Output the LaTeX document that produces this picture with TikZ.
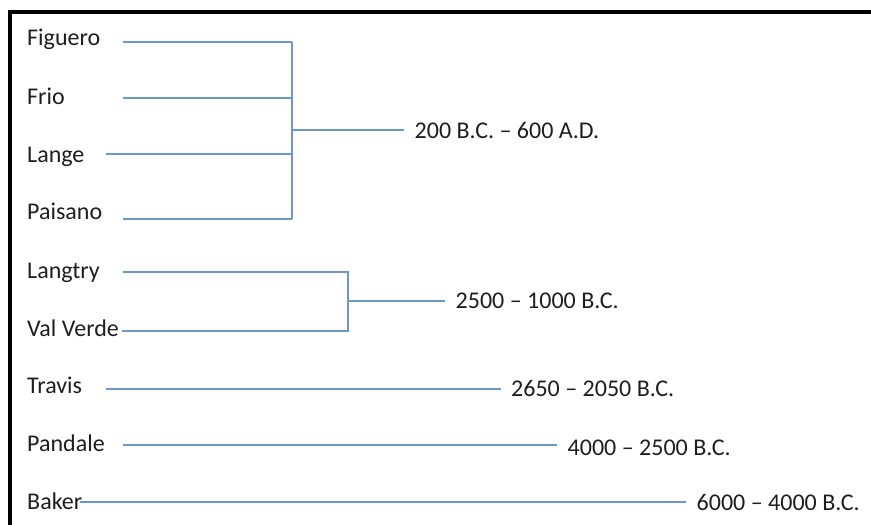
\documentclass[tikz,border=0pt]{standalone}
\usepackage{fontspec}
\setmainfont{Carlito}
\definecolor{linkblue}{RGB}{108,150,206}
\definecolor{inkgray}{RGB}{30,30,30}
\begin{document}
\begin{tikzpicture}[x=1pt,y=-1pt,
  culture/.style={anchor=base west, inner sep=0pt, font=\fontsize{24}{28}\selectfont, text=inkgray},
  period/.style={anchor=west, inner xsep=10.5pt, inner ysep=0pt, font=\fontsize{24}{28}\selectfont, text=inkgray},
  link/.style={draw=linkblue, line width=1.6pt},
  frameline/.style={draw=black, line width=4pt}]
\useasboundingbox (0,0) rectangle (871,525);
% frame along top and left edges
\draw[frameline] (10,525) -- (10,12) -- (871,12);

% culture names
\node[culture] (figuero) at (27,45) {Figuero};
\node[culture] (frio) at (27,104) {Frio};
\node[culture] (lange) at (27,162) {Lange};
\node[culture] (paisano) at (27,219) {Paisano};
\node[culture] (langtry) at (27,278) {Langtry};
\node[culture] (valverde) at (27,336) {Val Verde};
\node[culture] (travis) at (27,393) {Travis};
\node[culture] (pandale) at (27,451.5) {Pandale};
\node[culture] (baker) at (27,509) {Baker};

% left ends of the connectors
\coordinate (figueroS) at (123,41.7);
\coordinate (frioS) at (123,97.7);
\coordinate (langeS) at (106,154);
\coordinate (paisanoS) at (123,219);
\coordinate (langtryS) at (123,271.7);
\coordinate (valverdeS) at (122,330.7);
\coordinate (travisS) at (106,388.7);
\coordinate (pandaleS) at (123,445);
\coordinate (bakerS) at (80,501.7);

% bracket joints
\coordinate (b1top) at (292,41.7);
\coordinate (b1bot) at (292,219);
\coordinate (b1mid) at (292,130);
\coordinate (b2top) at (348,271.7);
\coordinate (b2bot) at (348,330.7);
\coordinate (b2mid) at (348,301);

% period labels
\node[period] (per1) at (404,130) {200 B.C. – 600 A.D.};
\node[period] (per2) at (445,301) {2500 – 1000 B.C.};
\node[period] (per3) at (500.5,388.5) {2650 – 2050 B.C.};
\node[period] (per4) at (557,448) {4000 – 2500 B.C.};
\node[period] (per5) at (686,502.5) {6000 – 4000 B.C.};

% first bracket
\draw[link] (figueroS) -- (figueroS -| b1top);
\draw[link] (frioS) -- (frioS -| b1top);
\draw[link] (langeS) -- (langeS -| b1top);
\draw[link] (paisanoS) -- (paisanoS -| b1top);
\draw[link] (b1top) -- (b1bot);
\draw[link] (b1mid) -- (per1.west);

% second bracket
\draw[link] (langtryS) -- (b2top) -- (b2bot) -- (valverdeS);
\draw[link] (b2mid) -- (per2.west);

% single lines
\draw[link] (travisS) -- (travisS -| per3.west);
\draw[link] (pandaleS) -- (pandaleS -| per4.west);
\draw[link] (bakerS) -- (bakerS -| per5.west);
\end{tikzpicture}
\end{document}
